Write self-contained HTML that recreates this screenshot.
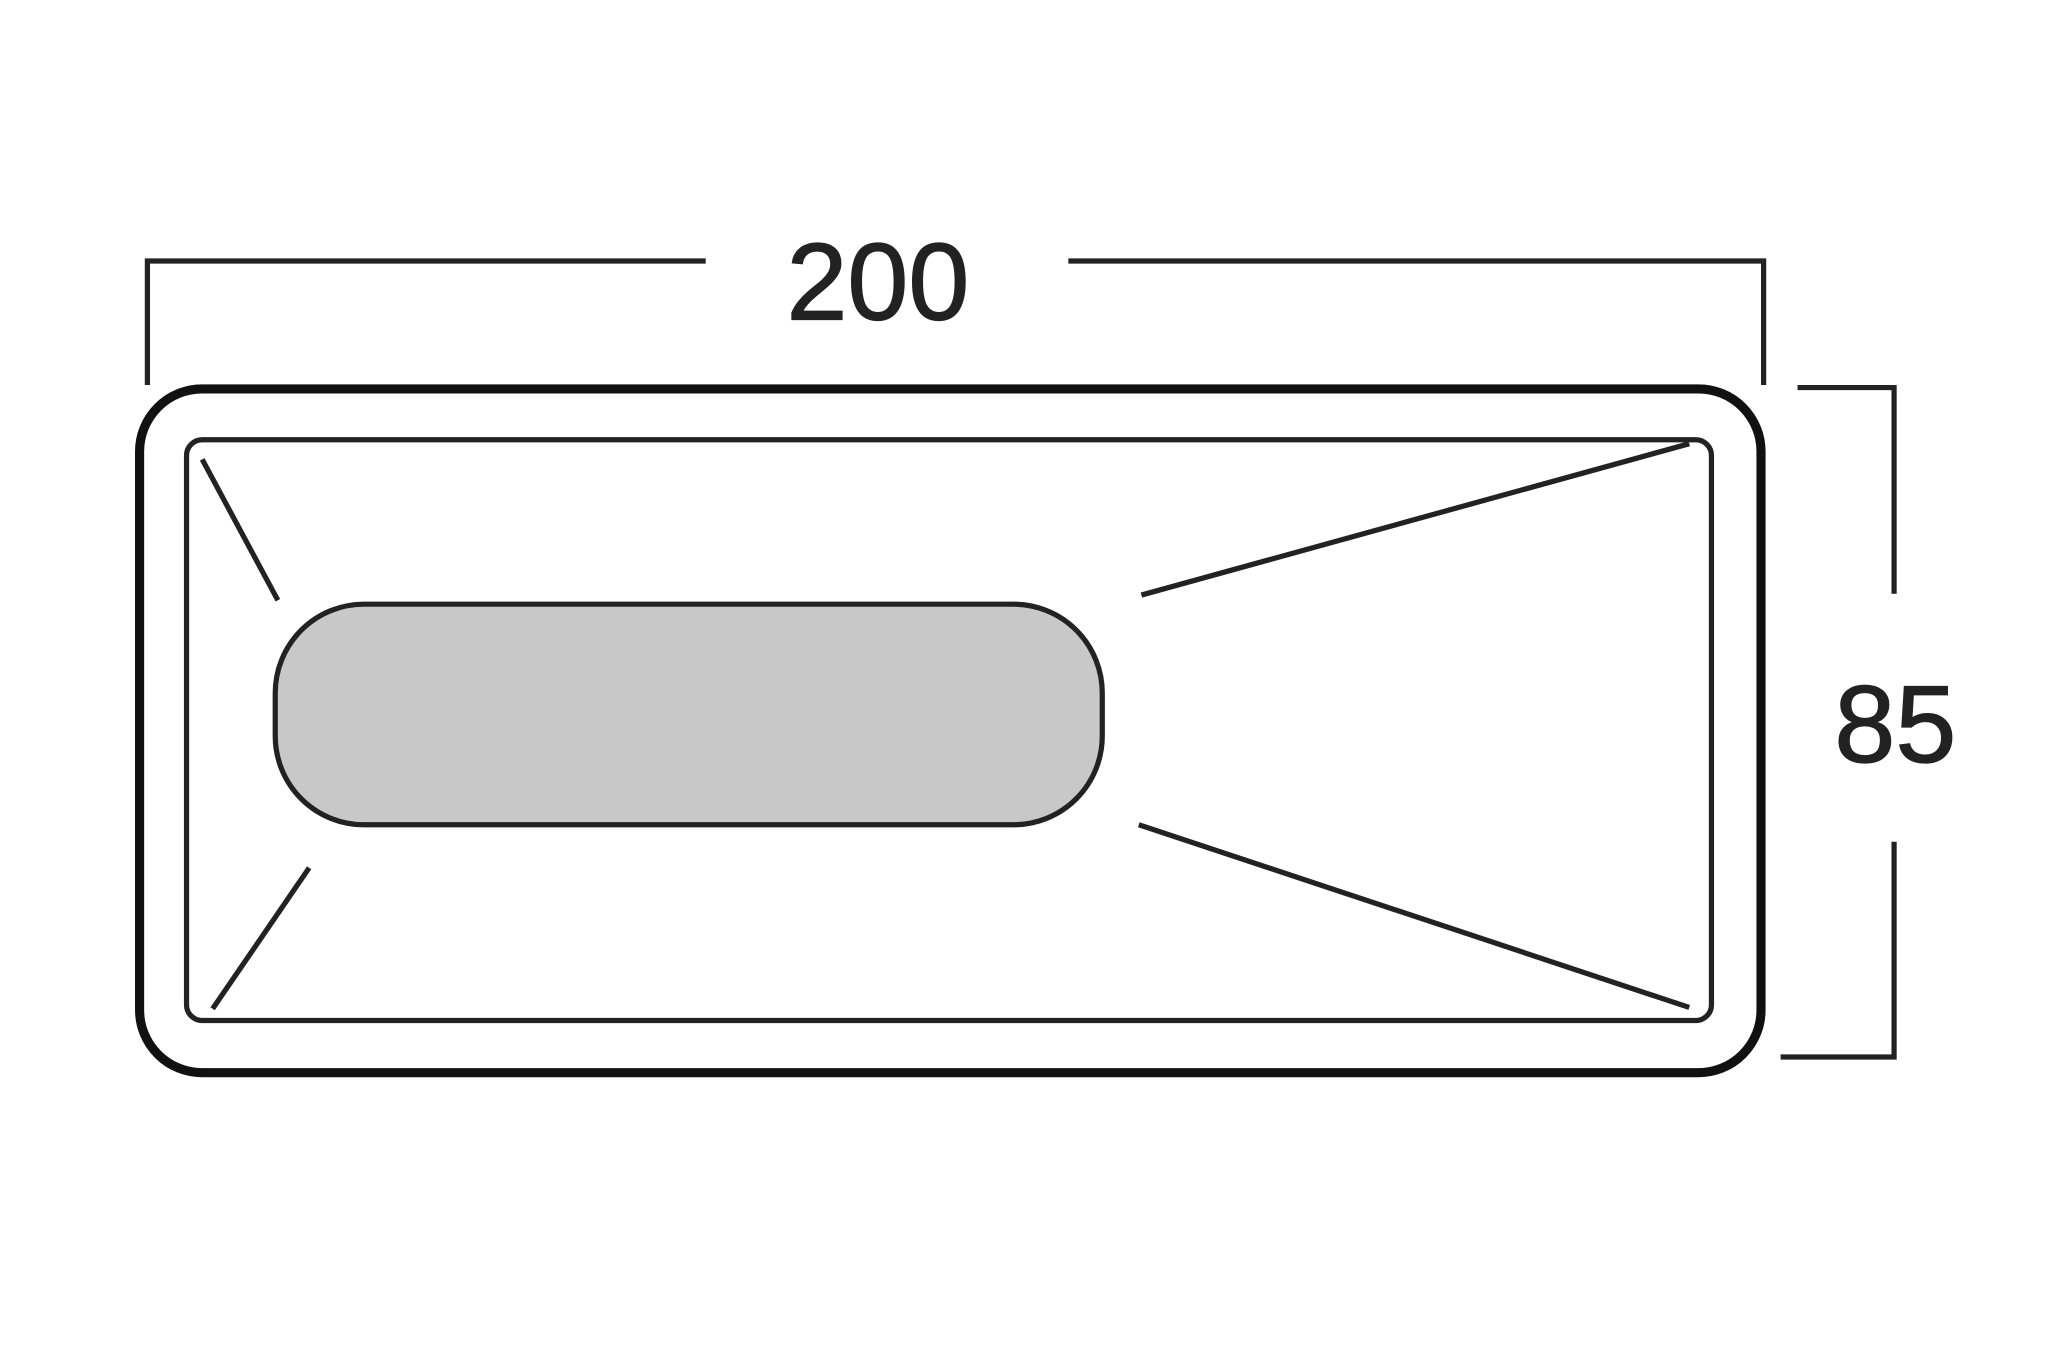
<!DOCTYPE html>
<html><head><meta charset="utf-8"><style>
html,body{margin:0;padding:0;background:#fff;}
svg{display:block;}
</style></head><body>
<svg width="2048" height="1365" viewBox="0 0 1570 1046" preserveAspectRatio="none" xmlns="http://www.w3.org/2000/svg">
<rect width="1570" height="1046" fill="#fff"/>
<g fill="none" stroke="#222" stroke-width="4">
<polyline points="113,295 113,200 541,200"/>
<polyline points="819,200 1352,200 1352,295"/>
<polyline points="1378,297 1452,297 1452,455"/>
<polyline points="1452,645 1452,810 1365,810"/>
</g>
<text x="673" y="245" font-family="Liberation Sans, sans-serif" font-size="84" text-anchor="middle" fill="#222" stroke="#222" stroke-width="1">200</text>
<text x="1453" y="584" font-family="Liberation Sans, sans-serif" font-size="84" text-anchor="middle" fill="#222" stroke="#222" stroke-width="1">85</text>
<rect x="107" y="298" width="1243" height="524" rx="48" ry="48" fill="#fff" stroke="#111" stroke-width="7"/>
<rect x="143" y="337" width="1169" height="445" rx="12" ry="12" fill="#fff" stroke="#222" stroke-width="4"/>
<rect x="211" y="463" width="634" height="169" rx="68" ry="68" fill="#c8c8c8" stroke="#222" stroke-width="4"/>
<g stroke="#222" stroke-width="4" fill="none">
<line x1="155" y1="352" x2="213" y2="460"/>
<line x1="237" y1="665" x2="163" y2="773"/>
<line x1="875" y1="456" x2="1295" y2="340"/>
<line x1="873" y1="632" x2="1295" y2="772"/>
</g>
</svg>
</body></html>
